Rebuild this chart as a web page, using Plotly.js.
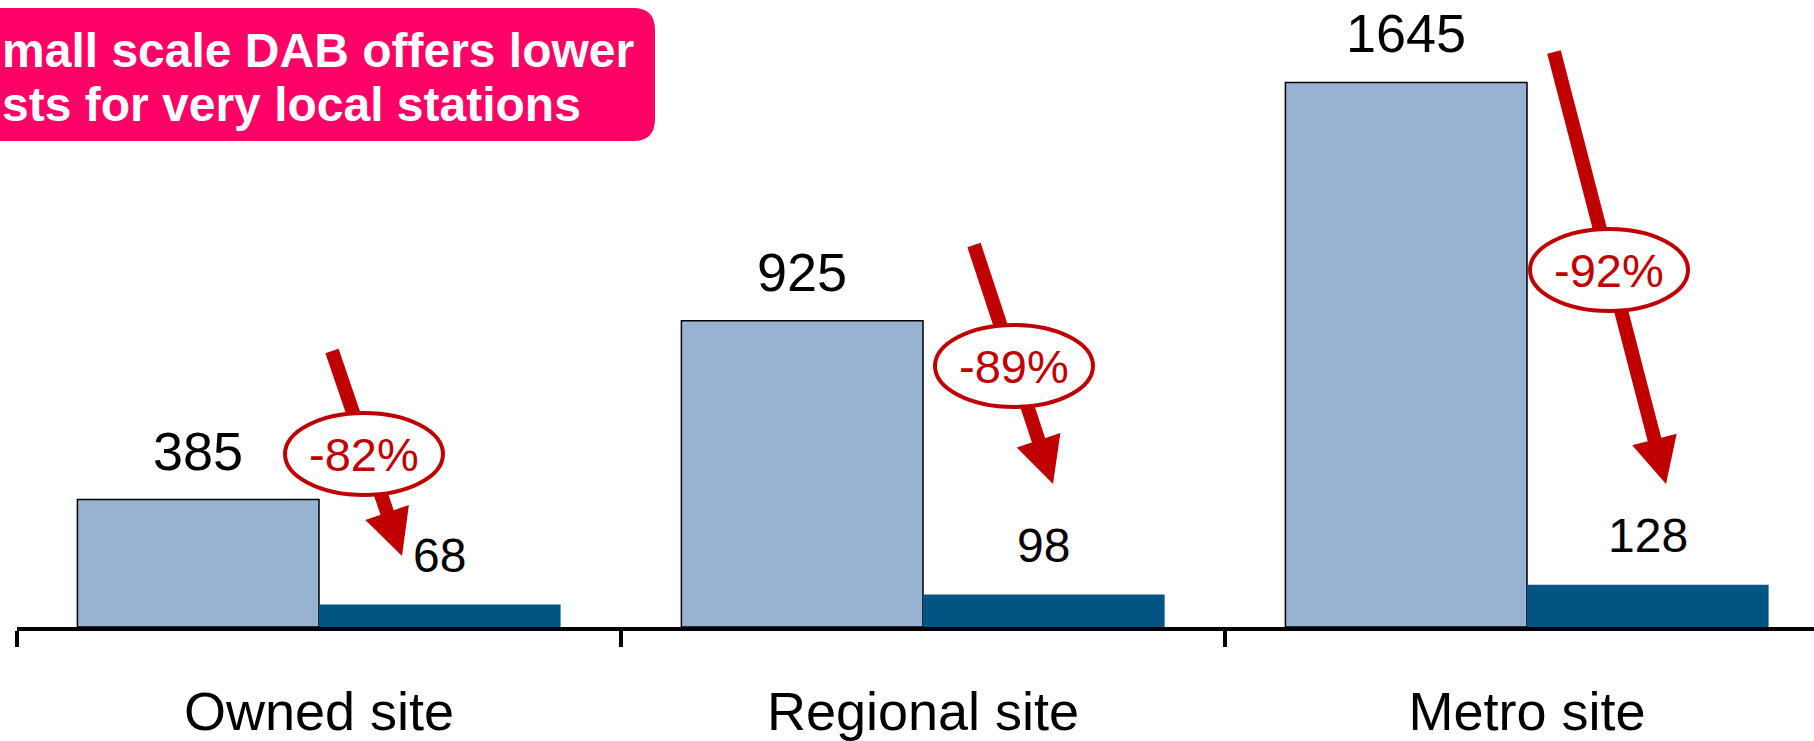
<!DOCTYPE html>
<html>
<head>
<meta charset="utf-8">
<script src="https://cdn.plot.ly/plotly-3.0.1.min.js"></script>
<style>
  html, body { margin: 0; padding: 0; background: #fff; }
  #chart { width: 1814px; height: 741px; }
</style>
</head>
<body>
<div id="chart"></div>
<script>
// ---- data ----
const categories = ['Owned site', 'Regional site', 'Metro site'];
const currentCost = [385, 925, 1645];
const smallScaleCost = [68, 98, 128];
const reductionLabels = ['-82%', '-89%', '-92%'];
const titleLines = ['mall scale DAB offers lower', 'sts for very local stations'];

// ---- layout constants (pixels) ----
const FIG_W = 1814, FIG_H = 741;
const M_L = 17, M_R = 0, M_T = 0, M_B = 114;
const PW = FIG_W - M_L - M_R, PH = FIG_H - M_T - M_B;
const CAT_PX = 604;
const px = p => (p - M_L) / PW;
const py = p => 1 - (p - M_T) / PH;

const RED = '#C00000';
const FONT = '"Liberation Sans", Arial, sans-serif';

const BARGAP = 0.2;
const barW = (1 - BARGAP) / 2;

const traces = [
  {
    type: 'bar', x: categories, y: currentCost, name: 'Current',
    marker: { color: '#98B3D1', line: { color: '#000000', width: 1.5 } },
    hoverinfo: 'skip'
  },
  {
    type: 'bar', x: categories, y: smallScaleCost, name: 'Small scale DAB',
    marker: { color: '#005583', line: { width: 0 } },
    hoverinfo: 'skip'
  }
];

const annotations = [];
categories.forEach((c, i) => {
  annotations.push({
    xref: 'x', yref: 'y', x: i - barW / 2, y: currentCost[i],
    text: String(currentCost[i]), showarrow: false,
    yanchor: 'middle', yshift: 49,
    font: { family: FONT, size: 54, color: '#000' }
  });
  annotations.push({
    xref: 'x', yref: 'y', x: i + barW / 2, y: smallScaleCost[i],
    text: String(smallScaleCost[i]), showarrow: false,
    yanchor: 'middle', yshift: 49,
    font: { family: FONT, size: 48, color: '#000' }
  });
});

// title box
const shapes = [];
(function () {
  const l = -60, r = 655, t = 8, b = 141, rad = 22;
  const P = (x, y) => px(x) + ',' + py(y);
  const path = 'M' + P(l, t) + ' L' + P(r - rad, t) + ' Q' + P(r, t) + ' ' + P(r, t + rad) +
    ' L' + P(r, b - rad) + ' Q' + P(r, b) + ' ' + P(r - rad, b) + ' L' + P(l, b) + ' Z';
  shapes.push({ type: 'path', xref: 'paper', yref: 'paper', path: path,
    fillcolor: '#FF0066', line: { width: 0 }, layer: 'above' });
})();
annotations.push({
  xref: 'paper', yref: 'paper', x: px(0), y: py(51), xanchor: 'left', yanchor: 'middle',
  text: titleLines[0], showarrow: false,
  font: { family: FONT, size: 48, color: '#fff', weight: 'bold' }
});
annotations.push({
  xref: 'paper', yref: 'paper', x: px(0), y: py(104), xanchor: 'left', yanchor: 'middle',
  text: titleLines[1], showarrow: false,
  font: { family: FONT, size: 48, color: '#fff', weight: 'bold' }
});

// reduction arrows with ellipses (pixel geometry)
const arrows = [
  { s: [332, 351], t: [402, 556], c: [364, 454] },
  { s: [974, 245], t: [1053, 484], c: [1014, 366] },
  { s: [1554, 52], t: [1666, 484], c: [1609, 270] }
];
arrows.forEach((a, i) => {
  const dx = a.t[0] - a.s[0], dy = a.t[1] - a.s[1];
  const len = Math.hypot(dx, dy);
  const ux = dx / len, uy = dy / len;
  const nx = -uy, ny = ux;
  const HL = 46, HW = 23;
  const bx = a.t[0] - HL * ux, by = a.t[1] - HL * uy;
  shapes.push({ type: 'line', xref: 'paper', yref: 'paper',
    x0: px(a.s[0]), y0: py(a.s[1]), x1: px(bx + 4 * ux), y1: py(by + 4 * uy),
    line: { color: RED, width: 14 }, layer: 'above' });
  const path = 'M' + px(a.t[0]) + ',' + py(a.t[1]) +
    ' L' + px(bx + HW * nx) + ',' + py(by + HW * ny) +
    ' L' + px(bx - HW * nx) + ',' + py(by - HW * ny) + ' Z';
  shapes.push({ type: 'path', xref: 'paper', yref: 'paper', path: path,
    fillcolor: RED, line: { width: 0 }, layer: 'above' });
});
arrows.forEach((a, i) => {
  const rx = 79, ry = 41;
  shapes.push({ type: 'circle', xref: 'paper', yref: 'paper',
    x0: px(a.c[0] - rx), x1: px(a.c[0] + rx), y0: py(a.c[1] + ry), y1: py(a.c[1] - ry),
    fillcolor: '#ffffff', line: { color: RED, width: 4 }, layer: 'above' });
  annotations.push({ xref: 'paper', yref: 'paper', x: px(a.c[0]), y: py(a.c[1]),
    xanchor: 'center', yanchor: 'middle', text: reductionLabels[i], showarrow: false,
    font: { family: FONT, size: 47, color: RED } });
});

const layout = {
  width: FIG_W, height: FIG_H,
  margin: { l: M_L, r: M_R, t: M_T, b: M_B, pad: 0 },
  paper_bgcolor: '#fff', plot_bgcolor: '#fff',
  barmode: 'group', bargap: BARGAP, bargroupgap: 0,
  showlegend: false,
  font: { family: FONT },
  xaxis: {
    type: 'category', range: [-0.5, -0.5 + PW / CAT_PX],
    showline: true, linecolor: '#000', linewidth: 3.5,
    ticks: 'outside', tickson: 'boundaries', ticklen: 16, tickwidth: 3.5, tickcolor: '#000',
    ticklabelstandoff: 35,
    tickfont: { family: FONT, size: 54, color: '#000' },
    showgrid: false, zeroline: false, automargin: false, fixedrange: true
  },
  yaxis: { visible: false, range: [0, 1894], showgrid: false, zeroline: false, fixedrange: true },
  shapes: shapes,
  annotations: annotations
};

Plotly.newPlot('chart', traces, layout, { staticPlot: true, displayModeBar: false });
</script>
</body>
</html>
